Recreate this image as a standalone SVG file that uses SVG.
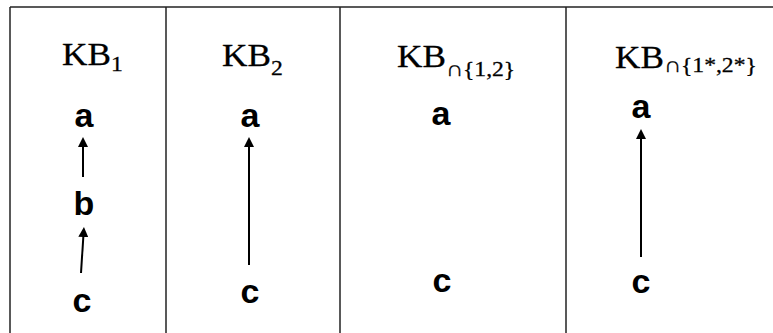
<svg xmlns="http://www.w3.org/2000/svg" width="773" height="333" viewBox="0 0 773 333">
  <style>
    .frame { stroke: #222; stroke-width: 1.5; fill: none; }
    .title { font-family: "Liberation Serif", "Times New Roman", serif; font-size: 32px; fill: #000; stroke: #000; stroke-width: 0.3; }
    .sub { font-size: 21.5px; }
    .node { font-family: "Liberation Sans", Arial, sans-serif; font-weight: bold; font-size: 34px; fill: #000; text-anchor: middle; }
    .edge { stroke: #000; stroke-width: 2; fill: none; marker-end: url(#arrow); }
  </style>
  <defs>
    <!-- tip sits 4px beyond the line end -->
    <marker id="arrow" viewBox="0 0 10 10" refX="6" refY="5" markerUnits="userSpaceOnUse" markerWidth="10" markerHeight="10" orient="auto">
      <path d="M0,0 L10,5 L0,10 Z" fill="#000"/>
    </marker>
  </defs>
  <rect width="773" height="333" fill="#fff"/>

  <!-- table frame: top rule and column dividers -->
  <g id="frame" class="frame">
    <line x1="10" y1="7" x2="773" y2="7"/>
    <line x1="10" y1="7" x2="10" y2="333"/>
    <line x1="166" y1="7" x2="166" y2="333"/>
    <line x1="340" y1="7" x2="340" y2="333"/>
    <line x1="566" y1="7" x2="566" y2="333"/>
  </g>

  <!-- column headings (slightly widened serif) -->
  <g id="headings">
    <text class="title" transform="translate(62 65) scale(1.1 1)">KB<tspan class="sub" dy="6">1</tspan></text>
    <text class="title" transform="translate(222 66) scale(1.1 1)">KB<tspan class="sub" dy="9">2</tspan></text>
    <text class="title" transform="translate(397 67) scale(1.1 1)">KB<tspan class="sub" dy="9">∩{1,2}</tspan></text>
    <text class="title" transform="translate(615 68) scale(1.1 1)">KB<tspan class="sub" dy="4">∩{1*,2*}</tspan></text>
  </g>

  <!-- KB1 -->
  <g id="kb1-a"><text class="node" x="84" y="127">a</text></g>
  <g id="kb1-b"><text class="node" x="84" y="215">b</text></g>
  <g id="kb1-c"><text class="node" x="82" y="312">c</text></g>

  <!-- KB2 -->
  <g id="kb2-a"><text class="node" x="250" y="127">a</text></g>
  <g id="kb2-c"><text class="node" x="250" y="303">c</text></g>

  <!-- KB intersection {1,2} -->
  <g id="kb12-a"><text class="node" x="441" y="125">a</text></g>
  <g id="kb12-c"><text class="node" x="442" y="292">c</text></g>

  <!-- KB intersection {1*,2*} -->
  <g id="kb12s-a"><text class="node" x="641" y="118">a</text></g>
  <g id="kb12s-c"><text class="node" x="641" y="293">c</text></g>

  <!-- connectors -->
  <g id="edges" class="edge">
    <line x1="83" y1="177" x2="83" y2="141"/>
    <line x1="81" y1="273" x2="83.7" y2="231"/>
    <line x1="249" y1="265" x2="249" y2="141"/>
    <line x1="641" y1="257" x2="641" y2="133"/>
  </g>
</svg>
